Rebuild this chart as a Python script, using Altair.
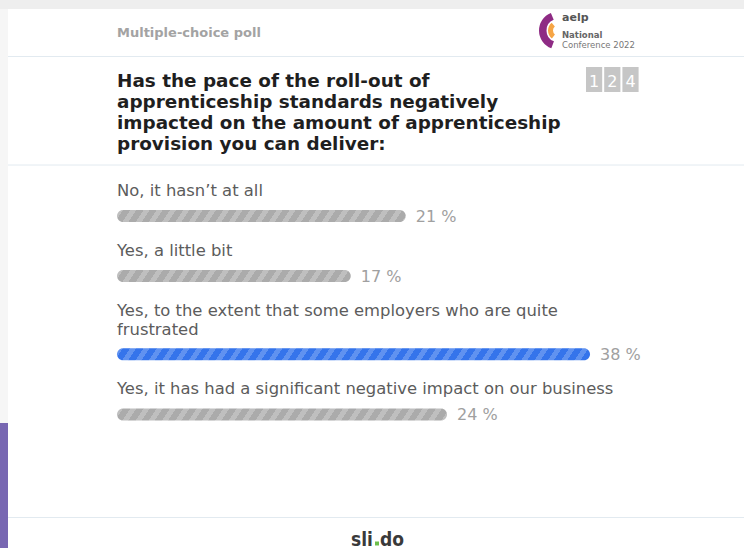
import altair as alt
import pandas as pd

# ---------------- data ----------------
POLL_TYPE = "Multiple-choice poll"
QUESTION = ("Has the pace of the roll-out of\n"
            "apprenticeship standards negatively\n"
            "impacted on the amount of apprenticeship\n"
            "provision you can deliver:")
OPTIONS = [
    "No, it hasn\u2019t at all",
    "Yes, a little bit",
    "Yes, to the extent that some employers who are quite\nfrustrated",
    "Yes, it has had a significant negative impact on our business",
]
PERCENTS = [21, 17, 38, 24]
VOTES = "124"
LOGO_LINES = ["aelp", "National", "Conference 2022"]

# ---------------- layout / style ----------------
W, H = 744, 548
LEFT = 117
BAR_END_MAX = 590
X_DOMAIN_MAX = 34.4
FIRST_BASELINE = 194.5
LINE_H = 18.3
LABEL_TO_BAR = 20.3
BAR_TO_NEXT = 41
BAR_H = 12
FONT = "DejaVu Sans"
GRAY_BASE, GRAY_LIGHT = "#ababab", "#bfbfbf"
BLUE_BASE, BLUE_LIGHT = "#3574eb", "#6092f0"
SEP = "#e2eaf0"

label_y, bar_y = [], []
y = FIRST_BASELINE
for opt in OPTIONS:
    n = opt.count("\n") + 1
    label_y.append(y)
    b = y + (n - 1) * LINE_H + LABEL_TO_BAR
    bar_y.append(b)
    y = b + BAR_TO_NEXT

df = pd.DataFrame({
    "idx": list(range(len(OPTIONS))),
    "option": OPTIONS,
    "pct": PERCENTS,
    "label_y": label_y,
    "bar_y": bar_y,
})
df["zero"] = 0
winner = PERCENTS.index(max(PERCENTS))


def stripes(width_px, base, light, period=13.3, lean=8.0, light_frac=0.45):
    k = lean / width_px
    a, b = 1 + k, k * (1 + k)
    span = width_px * (1 + k) * (1 + k * k)
    stops = []
    s = 0.0
    while s < span:
        o0 = s / span
        o1 = min((s + light_frac * period) / span, 1.0)
        o2 = min((s + period) / span, 1.0)
        stops += [{"offset": o0, "color": light}, {"offset": o1, "color": light},
                  {"offset": o1, "color": base}, {"offset": o2, "color": base}]
        s += period
    return {"gradient": "linear", "x1": 0, "y1": 0, "x2": a, "y2": b, "stops": stops}


xs = alt.Scale(domain=[0, X_DOMAIN_MAX], range=[LEFT, BAR_END_MAX], clamp=True, nice=False, zero=False)
ys = alt.Scale(domain=[0, H], range=[0, H], nice=False, zero=False)


def one():
    return alt.Chart(pd.DataFrame({"k": [0]}))


def rect(x, x2, y, y2, color):
    return one().mark_rect(color=color).encode(
        x=alt.value(x), x2=alt.value(x2), y=alt.value(y), y2=alt.value(y2))


def hrule(yv, x=8, x2=W):
    return one().mark_rule(color=SEP, strokeWidth=1).encode(
        x=alt.value(x), x2=alt.value(x2), y=alt.value(yv))


def label(text, x, yv, size, color, weight="normal", align="left", font=FONT, **kw):
    return one().mark_text(text=text, align=align, baseline="alphabetic", fontSize=size,
                           color=color, fontWeight=weight, font=font, **kw).encode(
        x=alt.value(x), y=alt.value(yv))


layers = []
# page background pieces
layers.append(rect(0, W, 0, 9, "#eeeeee"))
layers.append(rect(0, 8, 9, H, "#f6f6f6"))
layers.append(rect(0, 8, 423, H, "#7867b2"))

# header
layers.append(label(POLL_TYPE, LEFT, 36.5, 13, "#a3a3a3", weight="bold"))
layers.append(hrule(56.5))
layers.append(label(QUESTION, LEFT, 86.8, 18.4, "#1f1f1f", weight="bold", lineBreak="\n", lineHeight=21))
layers.append(hrule(165))

# logo
layers.append(one().mark_arc(theta=3.5, theta2=5.9, radius=19, radius2=11.5, color="#8e2b84").encode(
    x=alt.value(558), y=alt.value(30.5)))
layers.append(one().mark_arc(theta=3.8, theta2=5.6, radius=10, radius2=5, color="#f6a545").encode(
    x=alt.value(558), y=alt.value(30.5)))
layers.append(label(LOGO_LINES[0], 562, 21, 11, "#555555", weight="bold"))
layers.append(label(LOGO_LINES[1], 562, 37.5, 8.5, "#666666", weight="bold"))
layers.append(label(LOGO_LINES[2], 562, 48, 8.5, "#777777"))

# vote count boxes
for i, d in enumerate(VOTES):
    x0 = 586 + i * 18.2
    layers.append(rect(x0, x0 + 16.2, 67, 92, "#c6c6c6"))
    layers.append(label(d, x0 + 8.1, 86.5, 16, "#ffffff", align="center"))

# option labels
base = alt.Chart(df)
layers.append(base.mark_text(align="left", baseline="alphabetic", fontSize=16.4, color="#5c5c5c",
                             font=FONT, lineBreak="\n", lineHeight=LINE_H).encode(
    x=alt.value(LEFT), y=alt.Y("label_y:Q", scale=ys, axis=None), text="option:N"))

# bars
for i, p in enumerate(PERCENTS):
    wpx = min(p, X_DOMAIN_MAX) / X_DOMAIN_MAX * (BAR_END_MAX - LEFT)
    if i == winner:
        g = stripes(wpx, BLUE_BASE, BLUE_LIGHT)
    else:
        g = stripes(wpx, GRAY_BASE, GRAY_LIGHT)
    layers.append(base.transform_filter(alt.datum.idx == i).mark_bar(
        orient="horizontal", size=BAR_H, cornerRadius=BAR_H / 2, fill=g).encode(
        x=alt.X("zero:Q", scale=xs, axis=None), x2="pct:Q",
        y=alt.Y("bar_y:Q", scale=ys, axis=None)))

# percentage labels
layers.append(base.transform_calculate(t="datum.pct + ' %'").mark_text(
    align="left", baseline="alphabetic", dx=10, dy=5.8, fontSize=16, color="#a0a0a0", font=FONT).encode(
    x=alt.X("pct:Q", scale=xs, axis=None), y=alt.Y("bar_y:Q", scale=ys, axis=None), text="t:N"))

# footer
layers.append(hrule(517.5))
layers.append(label("sli", 351, 545.5, 19, "#3a3a3a", weight="bold", font="DejaVu Sans Condensed"))
layers.append(rect(375, 379, 541.5, 545.5, "#6cbf4b"))
layers.append(label("do", 380, 545.5, 19, "#3a3a3a", weight="bold", font="DejaVu Sans Condensed"))

chart = alt.layer(*layers).properties(
    width=W, height=H, padding=0, autosize=alt.AutoSizeParams(type="none"), background="#ffffff"
).configure_view(strokeWidth=0)

chart.save("out.html", embed_options={"renderer": "svg", "actions": False})
